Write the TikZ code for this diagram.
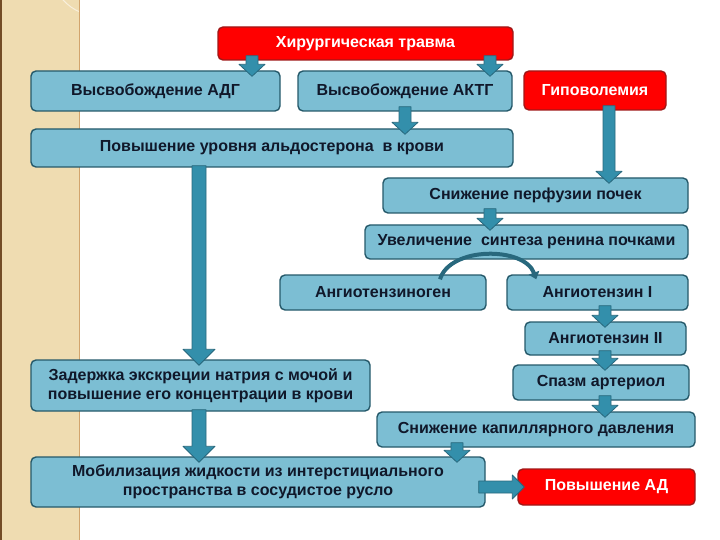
\documentclass[tikz,border=0pt]{standalone}
\usepackage{fontspec}
\setmainfont{Liberation Sans}
\usetikzlibrary{calc,arrows.meta}
\definecolor{boxfill}{HTML}{7CBED3}
\definecolor{boxline}{HTML}{25596A}
\definecolor{arrfill}{HTML}{338FAB}
\definecolor{arrline}{HTML}{28687D}
\definecolor{alarm}{HTML}{FF0000}
\definecolor{alarmline}{HTML}{A01818}
\definecolor{strip}{HTML}{EFDCB1}
\definecolor{ink}{HTML}{10182A}
\begin{document}
\begin{tikzpicture}[x=1pt,y=-1pt,line join=round,
  font=\bfseries\fontsize{16}{19.5}\selectfont,
  box/.style={draw=boxline,fill=boxfill,text=ink,line width=1.4pt,rounded corners=5pt,align=center,inner sep=0pt},
  redbox/.style={box,draw=alarmline,fill=alarm,text=white},
  arr/.style={draw=arrline,fill=arrfill,line width=.8pt}]
\useasboundingbox (0,0) rectangle (720,540);
% decorated strip on the left
\fill[strip] (0,0) rectangle (79,540);
\begin{scope}
\clip (0,0) rectangle (79,540);
\draw[white!55!strip,line width=1pt] (95,15) arc (90:250:50 and 65);
\draw[white!55!strip,line width=1pt] (70,0) arc (0:-120:35 and 70);
\end{scope}
\draw[brown!60!strip,line width=.8pt] (79,0)--(79,540);
\draw[brown!60!black,line width=2.5pt] (1,0)--(1,540);
% boxes
\node[redbox,minimum width=295pt,minimum height=33pt] (trauma) at (365.5,43.5) {Хирургическая травма};
\node[box,minimum width=249pt,minimum height=40pt] (adh) at (155.5,91) {Высвобождение АДГ};
\node[box,minimum width=214pt,minimum height=40pt] (acth) at (405,91) {Высвобождение АКТГ};
\node[redbox,minimum width=142pt,minimum height=39pt] (hypo) at (595,90.5) {Гиповолемия};
\node[box,minimum width=482pt,minimum height=38pt] (ald) at (272,148) {Повышение уровня альдостерона\ \ в крови};
\node[box,minimum width=305pt,minimum height=35pt] (perf) at (535.5,195.5) {Снижение перфузии почек};
\node[box,minimum width=323pt,minimum height=34pt] (renin) at (526.5,242) {Увеличение\ \ синтеза ренина почками};
\node[box,minimum width=206pt,minimum height=35pt] (gen) at (383,292.5) {Ангиотензиноген};
\node[box,minimum width=181pt,minimum height=35pt] (ang1) at (597.5,292.5) {Ангиотензин I};
\node[box,minimum width=161pt,minimum height=33pt] (ang2) at (605.5,338.5) {Ангиотензин II};
\node[box,minimum width=339pt,minimum height=51pt] (natr) at (200.5,385.5) {Задержка экскреции натрия с мочой и\\повышение его концентрации в крови};
\node[box,minimum width=176pt,minimum height=35pt] (spasm) at (601,382.5) {Спазм артериол};
\node[box,minimum width=318pt,minimum height=35pt] (cap) at (536,429.5) {Снижение капиллярного давления};
\node[box,minimum width=454pt,minimum height=50pt] (mob) at (258,482) {Мобилизация жидкости из интерстициального\\пространства в сосудистое русло};
\node[redbox,minimum width=177pt,minimum height=36pt] (bp) at (606.5,487) {Повышение АД};
% block arrows
\foreach \xx/\s/\t in {252/trauma/adh,490/trauma/acth,405/acth/ald,609/hypo/perf,490/perf/renin,605/ang1/ang2,605/ang2/spasm,605/spasm/cap,457/cap/mob}
  \path[arr] let \p1=(\xx,0 |- \s.south), \p2=(\xx,0 |- \t.north) in
    (\x1-6pt,\y1+5pt)--(\x1-6pt,\y2+6pt)--(\x1-13pt,\y2+6pt)--(\x1,\y2-6pt)--(\x1+13pt,\y2+6pt)--(\x1+6pt,\y2+6pt)--(\x1+6pt,\y1+5pt)--cycle;
\foreach \s/\t in {ald/natr,natr/mob}
  \path[arr] let \p1=(199,0 |- \s.south), \p2=(199,0 |- \t.north) in
    (\x1-7pt,\y1+2pt)--(\x1-7pt,\y2+10pt)--(\x1-16pt,\y2+10pt)--(\x1,\y2-6pt)--(\x1+16pt,\y2+10pt)--(\x1+7pt,\y2+10pt)--(\x1+7pt,\y1+2pt)--cycle;
\path[arr] let \p1=(mob.east |- bp.west), \p2=(bp.west) in
  (\x1-7pt,\y1+6pt)--(\x2-5pt,\y1+6pt)--(\x2-5pt,\y1+12pt)--(\x2+7pt,\y1)--(\x2-5pt,\y1-12pt)--(\x2-5pt,\y1-6pt)--(\x1-7pt,\y1-6pt)--cycle;
% renin turns angiotensinogen into angiotensin I
\draw[arrline,line width=4pt,-{Triangle[length=7pt,width=11pt]}] ($(gen.north)+(57,5)$) .. controls +(10,-33) and +(-12,-33) .. ($(ang1.north west)+(30,5)$);
\end{tikzpicture}
\end{document}
